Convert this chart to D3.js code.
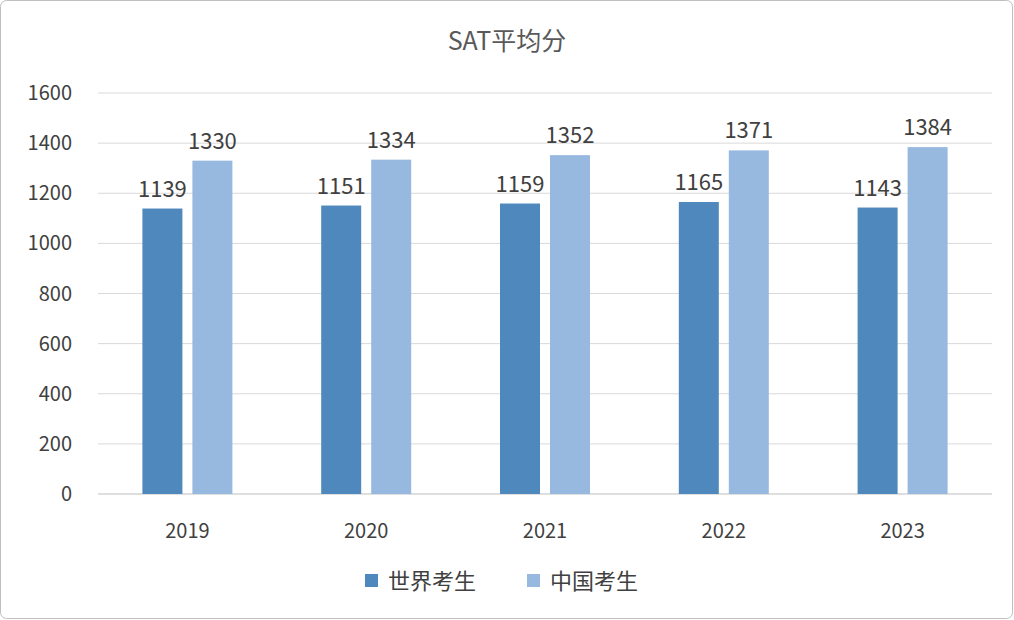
<!DOCTYPE html>
<html><head><meta charset="utf-8">
<script src="https://cdn.jsdelivr.net/npm/d3@7"></script>
<style>body{margin:0;background:#fff}text{font-family:"Noto Sans CJK SC","Noto Sans",sans-serif;fill:#404040}</style>
</head><body><svg id="c" width="1014" height="620"></svg>
<script>
const years=["2019","2020","2021","2022","2023"];
const world=[1139,1151,1159,1165,1143];
const china=[1330,1334,1352,1371,1384];
const seriesNames=["世界考生","中国考生"];
const colors=["#4f88bd","#97b8df"];
const yTicks=[0,200,400,600,800,1000,1200,1400,1600];

const svg=d3.select("#c");
svg.append("rect").attr("x",0.5).attr("y",0.5).attr("width",1012).attr("height",618).attr("rx",6).attr("fill","#fff").attr("stroke","#bfbfbf");
const L=98,R=992,T=93,B=494;
const x=d3.scaleBand().domain(years).range([L,R]);
const y=d3.scaleLinear().domain([0,1600]).range([B,T]);
svg.append("g").selectAll("line").data(yTicks).join("line")
 .attr("x1",L).attr("x2",R).attr("y1",d=>y(d)).attr("y2",d=>y(d))
 .attr("stroke",d=>d===0?"#bfbfbf":"#d9d9d9").attr("stroke-width",1);
svg.append("g").selectAll("text").data(yTicks).join("text")
 .attr("x",72).attr("y",d=>y(d)+7).attr("text-anchor","end").attr("font-size",20).text(d=>d);
svg.append("g").selectAll("text").data(years).join("text")
 .attr("x",d=>x(d)+x.bandwidth()/2).attr("y",538).attr("text-anchor","middle").attr("font-size",20).text(d=>d);
const bw=40,gap=10;
[world,china].forEach((vals,si)=>{
 const off=si===0?-(bw+gap/2):gap/2;
 const g=svg.append("g");
 g.selectAll("rect").data(vals).join("rect")
  .attr("x",(d,i)=>x(years[i])+x.bandwidth()/2+off).attr("width",bw)
  .attr("y",d=>y(d)).attr("height",d=>B-y(d)).attr("fill",colors[si]);
 g.selectAll("text").data(vals).join("text")
  .attr("x",(d,i)=>x(years[i])+x.bandwidth()/2+off+bw/2).attr("y",d=>y(d)-12)
  .attr("text-anchor","middle").attr("font-size",22).text(d=>d);
});
svg.append("text").attr("x",507).attr("y",50).attr("text-anchor","middle").attr("font-size",25).style("fill","#595959").text("SAT平均分");
const lx=[365,527];
seriesNames.forEach((n,i)=>{
 svg.append("rect").attr("x",lx[i]).attr("y",574).attr("width",13).attr("height",13).attr("fill",colors[i]);
 svg.append("text").attr("x",lx[i]+23).attr("y",589).attr("font-size",22).text(n);
});
</script></body></html>
